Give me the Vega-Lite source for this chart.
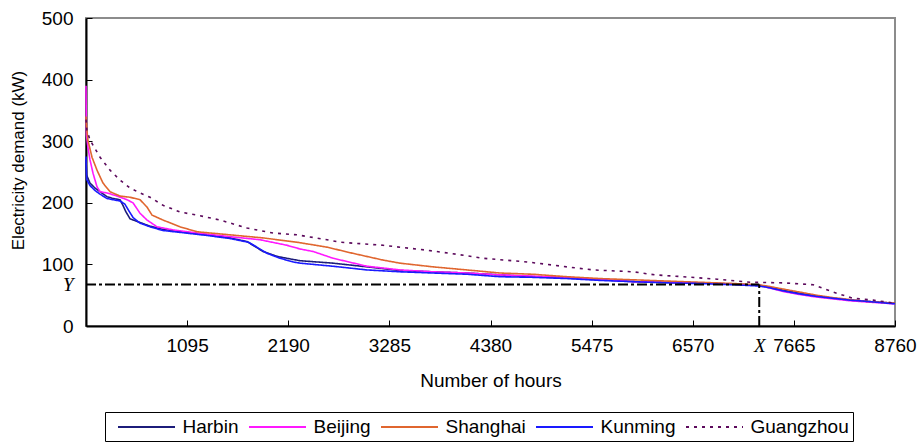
{
  "$schema": "https://vega.github.io/schema/vega-lite/v6.json",
  "autosize": {"type": "none"},
  "padding": {"left": 86, "top": 18, "right": 23, "bottom": 117},
  "width": 809,
  "height": 308,
  "background": "white",
  "config": {
    "view": {"stroke": "#8c8c8c", "strokeWidth": 2},
    "font": "Liberation Sans"
  },
  "datasets": {
    "curves": [
      {"city": "Harbin", "hours": 0, "kW": 270}, {"city": "Harbin", "hours": 7, "kW": 245}, {"city": "Harbin", "hours": 43, "kW": 232}, {"city": "Harbin", "hours": 97, "kW": 224}, {"city": "Harbin", "hours": 152, "kW": 218}, {"city": "Harbin", "hours": 227, "kW": 210}, {"city": "Harbin", "hours": 292, "kW": 207}, {"city": "Harbin", "hours": 368, "kW": 205}, {"city": "Harbin", "hours": 400, "kW": 196}, {"city": "Harbin", "hours": 430, "kW": 186}, {"city": "Harbin", "hours": 477, "kW": 174}, {"city": "Harbin", "hours": 585, "kW": 168}, {"city": "Harbin", "hours": 693, "kW": 162}, {"city": "Harbin", "hours": 834, "kW": 157}, {"city": "Harbin", "hours": 1018, "kW": 153}, {"city": "Harbin", "hours": 1310, "kW": 148}, {"city": "Harbin", "hours": 1559, "kW": 143}, {"city": "Harbin", "hours": 1744, "kW": 137}, {"city": "Harbin", "hours": 1809, "kW": 131}, {"city": "Harbin", "hours": 1917, "kW": 121}, {"city": "Harbin", "hours": 2069, "kW": 113}, {"city": "Harbin", "hours": 2242, "kW": 108}, {"city": "Harbin", "hours": 2318, "kW": 106}, {"city": "Harbin", "hours": 2675, "kW": 102}, {"city": "Harbin", "hours": 3043, "kW": 96}, {"city": "Harbin", "hours": 3400, "kW": 90}, {"city": "Harbin", "hours": 3758, "kW": 88}, {"city": "Harbin", "hours": 4126, "kW": 86}, {"city": "Harbin", "hours": 4484, "kW": 83}, {"city": "Harbin", "hours": 4841, "kW": 80}, {"city": "Harbin", "hours": 5209, "kW": 78}, {"city": "Harbin", "hours": 5567, "kW": 75}, {"city": "Harbin", "hours": 5924, "kW": 72}, {"city": "Harbin", "hours": 6286, "kW": 71}, {"city": "Harbin", "hours": 6647, "kW": 70}, {"city": "Harbin", "hours": 7010, "kW": 68}, {"city": "Harbin", "hours": 7280, "kW": 66}, {"city": "Harbin", "hours": 7370, "kW": 64}, {"city": "Harbin", "hours": 7549, "kW": 58}, {"city": "Harbin", "hours": 7730, "kW": 53}, {"city": "Harbin", "hours": 7910, "kW": 49}, {"city": "Harbin", "hours": 8090, "kW": 45}, {"city": "Harbin", "hours": 8271, "kW": 42}, {"city": "Harbin", "hours": 8451, "kW": 40}, {"city": "Harbin", "hours": 8760, "kW": 37},

      {"city": "Beijing", "hours": 0, "kW": 390}, {"city": "Beijing", "hours": 5, "kW": 310}, {"city": "Beijing", "hours": 20, "kW": 291}, {"city": "Beijing", "hours": 43, "kW": 270}, {"city": "Beijing", "hours": 76, "kW": 248}, {"city": "Beijing", "hours": 119, "kW": 226}, {"city": "Beijing", "hours": 152, "kW": 218}, {"city": "Beijing", "hours": 227, "kW": 216}, {"city": "Beijing", "hours": 336, "kW": 211}, {"city": "Beijing", "hours": 444, "kW": 205}, {"city": "Beijing", "hours": 509, "kW": 200}, {"city": "Beijing", "hours": 585, "kW": 183}, {"city": "Beijing", "hours": 661, "kW": 172}, {"city": "Beijing", "hours": 769, "kW": 161}, {"city": "Beijing", "hours": 942, "kW": 156}, {"city": "Beijing", "hours": 1202, "kW": 151}, {"city": "Beijing", "hours": 1559, "kW": 145}, {"city": "Beijing", "hours": 1885, "kW": 140}, {"city": "Beijing", "hours": 2177, "kW": 131}, {"city": "Beijing", "hours": 2318, "kW": 125}, {"city": "Beijing", "hours": 2459, "kW": 121}, {"city": "Beijing", "hours": 2675, "kW": 110}, {"city": "Beijing", "hours": 3043, "kW": 97}, {"city": "Beijing", "hours": 3400, "kW": 91}, {"city": "Beijing", "hours": 3758, "kW": 88}, {"city": "Beijing", "hours": 4126, "kW": 86}, {"city": "Beijing", "hours": 4484, "kW": 83}, {"city": "Beijing", "hours": 4841, "kW": 81}, {"city": "Beijing", "hours": 5209, "kW": 79}, {"city": "Beijing", "hours": 5567, "kW": 76}, {"city": "Beijing", "hours": 5924, "kW": 72}, {"city": "Beijing", "hours": 6286, "kW": 71}, {"city": "Beijing", "hours": 6647, "kW": 70}, {"city": "Beijing", "hours": 7010, "kW": 68}, {"city": "Beijing", "hours": 7280, "kW": 66}, {"city": "Beijing", "hours": 7370, "kW": 63}, {"city": "Beijing", "hours": 7549, "kW": 56}, {"city": "Beijing", "hours": 7730, "kW": 51}, {"city": "Beijing", "hours": 7910, "kW": 47}, {"city": "Beijing", "hours": 8090, "kW": 44}, {"city": "Beijing", "hours": 8271, "kW": 41}, {"city": "Beijing", "hours": 8451, "kW": 39}, {"city": "Beijing", "hours": 8760, "kW": 36},

      {"city": "Shanghai", "hours": 0, "kW": 340}, {"city": "Shanghai", "hours": 7, "kW": 323}, {"city": "Shanghai", "hours": 20, "kW": 302}, {"city": "Shanghai", "hours": 65, "kW": 274}, {"city": "Shanghai", "hours": 119, "kW": 253}, {"city": "Shanghai", "hours": 184, "kW": 232}, {"city": "Shanghai", "hours": 260, "kW": 218}, {"city": "Shanghai", "hours": 368, "kW": 211}, {"city": "Shanghai", "hours": 477, "kW": 209}, {"city": "Shanghai", "hours": 585, "kW": 205}, {"city": "Shanghai", "hours": 661, "kW": 193}, {"city": "Shanghai", "hours": 715, "kW": 180}, {"city": "Shanghai", "hours": 834, "kW": 172}, {"city": "Shanghai", "hours": 1018, "kW": 161}, {"city": "Shanghai", "hours": 1202, "kW": 153}, {"city": "Shanghai", "hours": 1559, "kW": 148}, {"city": "Shanghai", "hours": 1917, "kW": 143}, {"city": "Shanghai", "hours": 2285, "kW": 136}, {"city": "Shanghai", "hours": 2610, "kW": 128}, {"city": "Shanghai", "hours": 2859, "kW": 119}, {"city": "Shanghai", "hours": 3217, "kW": 107}, {"city": "Shanghai", "hours": 3400, "kW": 102}, {"city": "Shanghai", "hours": 3758, "kW": 96}, {"city": "Shanghai", "hours": 4126, "kW": 91}, {"city": "Shanghai", "hours": 4484, "kW": 86}, {"city": "Shanghai", "hours": 4841, "kW": 84}, {"city": "Shanghai", "hours": 5209, "kW": 80}, {"city": "Shanghai", "hours": 5567, "kW": 77}, {"city": "Shanghai", "hours": 5924, "kW": 75}, {"city": "Shanghai", "hours": 6286, "kW": 73}, {"city": "Shanghai", "hours": 6647, "kW": 71}, {"city": "Shanghai", "hours": 7010, "kW": 69}, {"city": "Shanghai", "hours": 7280, "kW": 67}, {"city": "Shanghai", "hours": 7370, "kW": 65}, {"city": "Shanghai", "hours": 7549, "kW": 60}, {"city": "Shanghai", "hours": 7730, "kW": 55}, {"city": "Shanghai", "hours": 7910, "kW": 50}, {"city": "Shanghai", "hours": 8090, "kW": 46}, {"city": "Shanghai", "hours": 8271, "kW": 43}, {"city": "Shanghai", "hours": 8451, "kW": 40}, {"city": "Shanghai", "hours": 8760, "kW": 37},

      {"city": "Kunming", "hours": 0, "kW": 275}, {"city": "Kunming", "hours": 7, "kW": 238}, {"city": "Kunming", "hours": 43, "kW": 228}, {"city": "Kunming", "hours": 97, "kW": 220}, {"city": "Kunming", "hours": 152, "kW": 214}, {"city": "Kunming", "hours": 227, "kW": 207}, {"city": "Kunming", "hours": 292, "kW": 205}, {"city": "Kunming", "hours": 368, "kW": 203}, {"city": "Kunming", "hours": 420, "kW": 198}, {"city": "Kunming", "hours": 460, "kW": 188}, {"city": "Kunming", "hours": 510, "kW": 176}, {"city": "Kunming", "hours": 585, "kW": 167}, {"city": "Kunming", "hours": 693, "kW": 161}, {"city": "Kunming", "hours": 834, "kW": 155}, {"city": "Kunming", "hours": 1018, "kW": 152}, {"city": "Kunming", "hours": 1310, "kW": 147}, {"city": "Kunming", "hours": 1559, "kW": 142}, {"city": "Kunming", "hours": 1760, "kW": 136}, {"city": "Kunming", "hours": 1850, "kW": 128}, {"city": "Kunming", "hours": 1960, "kW": 118}, {"city": "Kunming", "hours": 2100, "kW": 110}, {"city": "Kunming", "hours": 2242, "kW": 104}, {"city": "Kunming", "hours": 2318, "kW": 102}, {"city": "Kunming", "hours": 2675, "kW": 97}, {"city": "Kunming", "hours": 3043, "kW": 91}, {"city": "Kunming", "hours": 3400, "kW": 88}, {"city": "Kunming", "hours": 3758, "kW": 86}, {"city": "Kunming", "hours": 4126, "kW": 84}, {"city": "Kunming", "hours": 4484, "kW": 80}, {"city": "Kunming", "hours": 4841, "kW": 79}, {"city": "Kunming", "hours": 5209, "kW": 77}, {"city": "Kunming", "hours": 5567, "kW": 74}, {"city": "Kunming", "hours": 5924, "kW": 72}, {"city": "Kunming", "hours": 6286, "kW": 70}, {"city": "Kunming", "hours": 6647, "kW": 69}, {"city": "Kunming", "hours": 7010, "kW": 67}, {"city": "Kunming", "hours": 7280, "kW": 65}, {"city": "Kunming", "hours": 7370, "kW": 63}, {"city": "Kunming", "hours": 7549, "kW": 57}, {"city": "Kunming", "hours": 7730, "kW": 52}, {"city": "Kunming", "hours": 7910, "kW": 48}, {"city": "Kunming", "hours": 8090, "kW": 45}, {"city": "Kunming", "hours": 8271, "kW": 42}, {"city": "Kunming", "hours": 8451, "kW": 40}, {"city": "Kunming", "hours": 8760, "kW": 36},

      {"city": "Guangzhou", "hours": 0, "kW": 335}, {"city": "Guangzhou", "hours": 10, "kW": 318}, {"city": "Guangzhou", "hours": 43, "kW": 302}, {"city": "Guangzhou", "hours": 152, "kW": 274}, {"city": "Guangzhou", "hours": 260, "kW": 253}, {"city": "Guangzhou", "hours": 368, "kW": 237}, {"city": "Guangzhou", "hours": 477, "kW": 224}, {"city": "Guangzhou", "hours": 585, "kW": 216}, {"city": "Guangzhou", "hours": 693, "kW": 209}, {"city": "Guangzhou", "hours": 834, "kW": 196}, {"city": "Guangzhou", "hours": 1018, "kW": 185}, {"city": "Guangzhou", "hours": 1202, "kW": 180}, {"city": "Guangzhou", "hours": 1451, "kW": 172}, {"city": "Guangzhou", "hours": 1744, "kW": 159}, {"city": "Guangzhou", "hours": 2025, "kW": 151}, {"city": "Guangzhou", "hours": 2285, "kW": 148}, {"city": "Guangzhou", "hours": 2610, "kW": 140}, {"city": "Guangzhou", "hours": 2751, "kW": 136}, {"city": "Guangzhou", "hours": 3217, "kW": 131}, {"city": "Guangzhou", "hours": 3693, "kW": 123}, {"city": "Guangzhou", "hours": 3942, "kW": 118}, {"city": "Guangzhou", "hours": 4300, "kW": 110}, {"city": "Guangzhou", "hours": 4776, "kW": 104}, {"city": "Guangzhou", "hours": 5209, "kW": 96}, {"city": "Guangzhou", "hours": 5491, "kW": 91}, {"city": "Guangzhou", "hours": 5924, "kW": 88}, {"city": "Guangzhou", "hours": 6162, "kW": 83}, {"city": "Guangzhou", "hours": 6466, "kW": 80}, {"city": "Guangzhou", "hours": 6834, "kW": 76}, {"city": "Guangzhou", "hours": 7191, "kW": 71}, {"city": "Guangzhou", "hours": 7549, "kW": 70}, {"city": "Guangzhou", "hours": 7873, "kW": 67}, {"city": "Guangzhou", "hours": 8090, "kW": 55}, {"city": "Guangzhou", "hours": 8307, "kW": 45}, {"city": "Guangzhou", "hours": 8523, "kW": 42}, {"city": "Guangzhou", "hours": 8760, "kW": 37}
    ],
    "hline": [{"hours": 0, "hours_end": 7290, "kW": 67.5}],
    "vline": [{"hours": 7290, "kW": 0, "kW_end": 67.5}]
  },
  "layer": [
    {
      "data": {"name": "curves"},
      "mark": {"type": "line", "strokeWidth": 1.6},
      "encoding": {
        "x": {
          "field": "hours", "type": "quantitative",
          "scale": {"domain": [0, 8760], "nice": false, "zero": false},
          "axis": {
            "title": "Number of hours",
            "values": [1095, 2190, 3285, 4380, 5475, 6570, 7290, 7665, 8760],
            "format": "d",
            "labelExpr": "datum.value == 7290 ? 'X' : datum.label",
            "labelFont": {"condition": {"test": "datum.value == 7290", "value": "Liberation Serif"}, "value": "Liberation Sans"},
            "labelFontStyle": {"condition": {"test": "datum.value == 7290", "value": "italic"}, "value": "normal"},
            "tickOpacity": {"condition": {"test": "datum.value == 7290", "value": 0}, "value": 1},
            "labelFlush": false,
            "labelOverlap": false,
            "grid": false,
            "domainColor": "black", "domainWidth": 2,
            "tickColor": "black", "tickSize": -6, "tickWidth": 1,
            "labelFontSize": 19, "labelColor": "black", "labelPadding": 16,
            "titleFont": "Liberation Sans", "titleFontSize": 19, "titleFontWeight": "normal", "titleColor": "black", "titlePadding": 16
          }
        },
        "y": {
          "field": "kW", "type": "quantitative",
          "scale": {"domain": [0, 500], "nice": false},
          "axis": {
            "title": "Electricity demand (kW)",
            "values": [0, 67.5, 100, 200, 300, 400, 500],
            "labelExpr": "datum.value == 67.5 ? 'Y' : datum.label",
            "labelFont": {"condition": {"test": "datum.value == 67.5", "value": "Liberation Serif"}, "value": "Liberation Sans"},
            "labelFontStyle": {"condition": {"test": "datum.value == 67.5", "value": "italic"}, "value": "normal"},
            "tickOpacity": {"condition": {"test": "datum.value == 67.5", "value": 0}, "value": 1},
            "labelFlush": false,
            "labelOverlap": false,
            "grid": false,
            "domainColor": "black", "domainWidth": 2,
            "tickColor": "black", "tickSize": -6, "tickWidth": 1,
            "labelFontSize": 19, "labelColor": "black", "labelPadding": 19,
            "titleFont": "Liberation Sans", "titleFontSize": 17, "titleFontWeight": "normal", "titleColor": "black", "titlePadding": 14,
            "titleY": 142
          }
        },
        "color": {
          "field": "city", "type": "nominal",
          "scale": {
            "domain": ["Harbin", "Beijing", "Shanghai", "Kunming", "Guangzhou"],
            "range": ["#1c1c7a", "#ff19ff", "#e0662f", "#1a1aff", "#5c0a5c"]
          },
          "legend": {
            "title": null,
            "orient": "none",
            "legendX": 19,
            "legendY": 394,
            "direction": "horizontal",
            "symbolType": "M-2.85,0H2.85",
            "symbolSize": 400,
            "symbolStrokeWidth": 2,
            "symbolOffset": 26.5,
            "labelFont": "Liberation Sans",
            "labelFontSize": 19,
            "labelColor": "black",
            "labelOffset": 25,
            "columnPadding": 1,
            "strokeColor": "black",
            "padding": 4
          }
        },
        "strokeDash": {
          "field": "city", "type": "nominal",
          "scale": {
            "domain": ["Harbin", "Beijing", "Shanghai", "Kunming", "Guangzhou"],
            "range": [[1, 0], [1, 0], [1, 0], [1, 0], [3, 5]]
          },
          "legend": {
            "title": null,
            "orient": "none",
            "legendX": 19,
            "legendY": 394,
            "direction": "horizontal",
            "symbolType": "M-2.85,0H2.85",
            "symbolSize": 400,
            "symbolStrokeWidth": 2,
            "symbolOffset": 26.5,
            "labelFont": "Liberation Sans",
            "labelFontSize": 19,
            "labelColor": "black",
            "labelOffset": 25,
            "columnPadding": 1,
            "strokeColor": "black",
            "padding": 4
          }
        }
      }
    },
    {
      "data": {"name": "hline"},
      "mark": {"type": "rule", "color": "black", "strokeWidth": 2, "strokeDash": [10, 3, 3, 3]},
      "encoding": {
        "x": {"field": "hours", "type": "quantitative"},
        "x2": {"field": "hours_end"},
        "y": {"field": "kW", "type": "quantitative"}
      }
    },
    {
      "data": {"name": "vline"},
      "mark": {"type": "rule", "color": "black", "strokeWidth": 2, "strokeDash": [10, 3, 3, 3]},
      "encoding": {
        "x": {"field": "hours", "type": "quantitative"},
        "y": {"field": "kW", "type": "quantitative"},
        "y2": {"field": "kW_end"}
      }
    }
  ]
}
